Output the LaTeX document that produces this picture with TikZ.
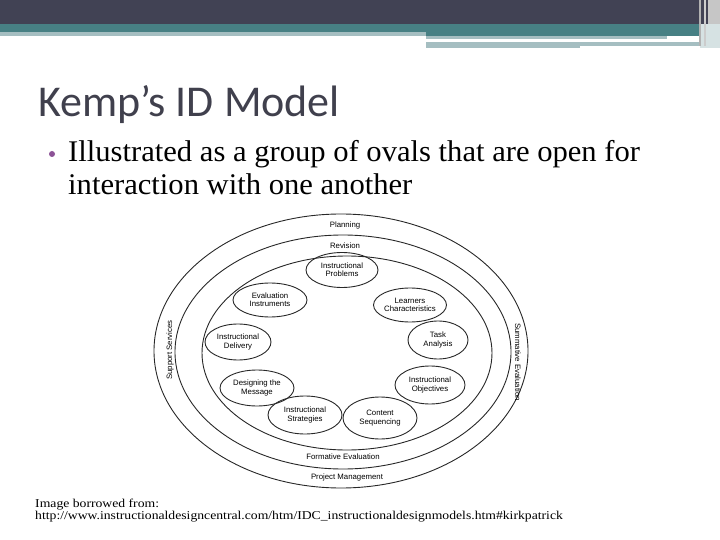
\documentclass[tikz,border=0pt]{standalone}
\usepackage{fontspec}
\usepackage{xcolor}
\usepackage{tikz}
\usetikzlibrary{shapes.geometric}
\setmainfont{Liberation Serif}
\newfontfamily\titlefont{Carlito}
\newfontfamily\diagfont{Liberation Sans}
\definecolor{banda}{RGB}{65,66,84}
\definecolor{verde}{RGB}{71,128,132}
\definecolor{claro}{RGB}{165,190,193}
\definecolor{titulo}{RGB}{64,64,77}
\definecolor{vineta}{RGB}{140,82,150}
\definecolor{trazo}{RGB}{40,40,40}

\begin{document}
\begin{tikzpicture}[x=1pt, y=-1pt,
    oval/.style={draw=trazo, line width=0.9pt, ellipse, inner sep=0pt, align=center,
      font=\diagfont\fontsize{7.8}{8.4}\selectfont},
    rotulo/.style={inner sep=0pt, font=\diagfont\fontsize{7.8}{8.4}\selectfont},
    texto/.style={anchor=base west, inner sep=0pt}]
        \useasboundingbox (0,0) rectangle (720,540);
        % cabecera
        \fill[banda] (0,0) rectangle (720,24);
        \fill[verde] (0,24) rectangle (720,32);
        \fill[verde] (426,32) rectangle (700,36);
        \fill[claro] (0,32) rectangle (426,36);
        \fill[claro] (426,36) rectangle (667,39);
        \fill[claro] (426,42) rectangle (580,48);
        \fill[claro] (580,42) rectangle (708,46);
        \fill[gray!45] (708,0) rectangle (720,24);
        \fill[claro!45] (700,24) rectangle (720,48);
        \draw[gray!60, line width=1.5pt] (700,0) -- (700,46);
        \draw[gray!40, line width=1.5pt] (705,0) -- (705,46);
        % titulo y texto
        \node[texto, text=titulo, font=\titlefont\fontsize{44}{50}\selectfont] (titulo) at (38,117) {Kemp’s ID Model};
        \fill[vineta] (52,154) circle [radius=3pt];
        \node[texto, xscale=1.02, font=\fontsize{30}{34}\selectfont] (linea1) at (68,162) {Illustrated as a group of ovals that are open for};
        \node[texto, xscale=1.02, font=\fontsize{30}{34}\selectfont] (linea2) at (68,195) {interaction with one another};
        % elipses grandes
        \draw[trazo, line width=0.9pt] (341,351) ellipse [x radius=187pt, y radius=137pt];
        \draw[trazo, line width=0.9pt] (343,352) ellipse [x radius=168pt, y radius=117pt];
        \draw[trazo, line width=0.9pt] (347,353) ellipse [x radius=145pt, y radius=97pt];
        \node[rotulo] (planning) at (345,225) {Planning};
        \node[rotulo] (revision) at (345,246) {Revision};
        \node[rotulo] (formative) at (343,457) {Formative Evaluation};
        \node[rotulo] (project) at (347,477) {Project Management};
        \node[rotulo, rotate=90] (support) at (170,350) {Support Services};
        \node[rotulo, rotate=-90] (summative) at (518,362) {Summative Evaluation};
        % ovalos
        \node[oval, minimum width=72pt, minimum height=35pt] (problems) at (342,270) {Instructional\\Problems};
        \node[oval, minimum width=66pt, minimum height=34pt] (learners) at (410,305) {Learners\\Characteristics};
        \node[oval, minimum width=60pt, minimum height=38pt] (task) at (438,340) {Task\\Analysis};
        \node[oval, minimum width=70pt, minimum height=38pt] (objectives) at (430,385) {Instructional\\Objectives};
        \node[oval, minimum width=74pt, minimum height=42pt] (sequencing) at (380,418) {Content\\Sequencing};
        \node[oval, minimum width=74pt, minimum height=38pt] (strategies) at (305,415) {Instructional\\Strategies};
        \node[oval, minimum width=74pt, minimum height=36pt] (message) at (257,388) {Designing the\\Message};
        \node[oval, minimum width=66pt, minimum height=36pt] (delivery) at (238,342) {Instructional\\Delivery};
        \node[oval, minimum width=74pt, minimum height=34pt] (instruments) at (270,300) {Evaluation\\Instruments};
        % fuente
        \node[texto, xscale=1.14, font=\fontsize{12}{12}\selectfont] (fuente1) at (35,507) {Image borrowed from:};
        \node[texto, xscale=1.14, font=\fontsize{12}{12}\selectfont] (fuente2) at (35,519) {http://www.instructionaldesigncentral.com/htm/IDC\_instructionaldesignmodels.htm\#kirkpatrick};
      \end{tikzpicture}
\end{document}
